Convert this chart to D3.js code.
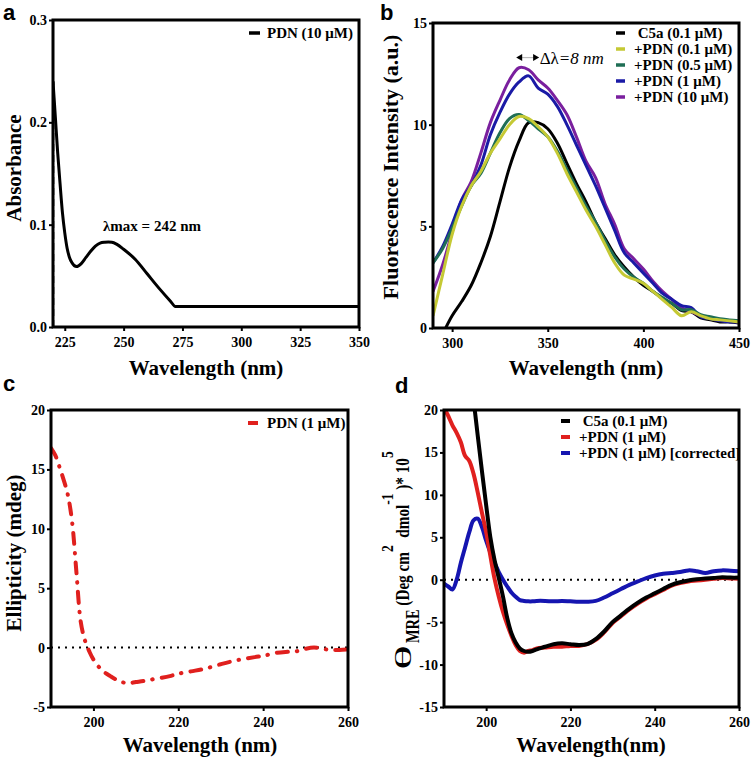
<!DOCTYPE html>
<html><head><meta charset="utf-8">
<script src="https://cdn.jsdelivr.net/npm/d3@7"></script>
<style>
body{margin:0;background:#fff;}
svg{display:block;}
text{white-space:pre;}
</style></head><body>
<svg id="chart" width="752" height="761"></svg>
<script>
// ---------- Panel a: UV absorbance ----------
const absWavelength = [220,221,222,223,224,225,226,227,228,230,232,234,236,238,240,242,243.5,245,247,250,255,260,265,270,272,275,300,325,350];
const absorbance    = [0.24,0.205,0.17,0.14,0.112,0.092,0.077,0.068,0.063,0.059,0.062,0.068,0.074,0.079,0.082,0.0828,0.083,0.0828,0.081,0.076,0.066,0.052,0.038,0.025,0.020,0.020,0.020,0.020,0.020];
const absTicksX = [225,250,275,300,325,350];
const absTicksY = [0,0.1,0.2,0.3];
const absLegend = "PDN (10 μM)";
const lambdaMaxLabel = "λmax = 242 nm";

// ---------- Panel b: fluorescence ----------
const flWavelength = [290,295,300,305,310,315,320,325,330,335,340,345,350,355,360,365,370,375,380,385,390,395,400,405,410,415,420,425,430,435,440,445,450];
const flC5a   = [-1.2,-0.3,0.6,1.3,2.1,3.2,4.5,6.2,7.9,9.2,10.1,10.1,9.8,9.1,8.1,7.1,6.2,5.2,4.4,3.6,3.0,2.5,2.1,1.8,1.45,1.2,0.85,0.8,0.5,0.4,0.3,0.3,0.25];
const flPdn01 = [0.6,2.6,4.6,6.0,7.0,7.7,8.6,9.3,10.0,10.4,10.3,9.9,9.4,8.6,7.6,6.7,5.8,5.0,4.1,3.2,2.6,2.4,2.2,1.8,1.4,1.0,0.6,0.8,0.6,0.45,0.4,0.35,0.3];
const flPdn05 = [3.2,3.9,4.9,6.0,7.0,7.6,8.6,9.6,10.3,10.5,10.2,9.8,9.4,8.7,7.8,6.9,6.0,5.2,4.3,3.5,2.9,2.5,2.2,1.8,1.5,1.2,0.9,0.9,0.65,0.55,0.45,0.4,0.35];
const flPdn1  = [3.2,4.0,5.1,6.3,7.0,8.0,9.5,10.6,11.5,12.1,12.4,11.8,11.5,10.9,10.0,9.0,8.0,7.0,5.9,4.8,3.7,3.2,2.7,2.2,1.7,1.4,1.1,1.0,0.55,0.45,0.35,0.3,0.3];
const flPdn10 = [1.8,3.1,4.7,6.3,7.2,8.6,10.1,11.2,12.2,12.8,12.7,12.2,11.8,11.2,10.5,9.4,8.2,7.4,6.1,5.1,3.9,3.4,2.9,2.3,1.8,1.4,1.0,0.8,0.6,0.5,0.4,0.35,0.3];
const flNames  = [" C5a (0.1 μM)","+PDN (0.1 μM)","+PDN (0.5 μM)","+PDN (1 μM)","+PDN (10 μM)"];
const flColors = ["#000000","#c5c934","#1f6e55","#1a1aa6","#7a1f9e"];
const flTicksX = [300,350,400,450];
const flTicksY = [0,5,10,15];
const shiftArrow = [333.5,345.5];   // wavelength ends of the Δλ arrow
const shiftLevel = 13.3;
const shiftLabel = ["Δλ","=8 nm"];

// ---------- Panel c: CD ellipticity ----------
const cdWavelength = [190,191,192,193,194,195,196,197,198,199,200,202,204,206,208,210,212,215,218,220,223,226,230,234,238,240,243,246,248,250,252,254,256,258,260];
const cdEllipticity = [16.8,16.2,15.2,14.1,12.8,10.5,6.3,2.2,0.6,-0.3,-1.0,-1.9,-2.4,-2.8,-3.0,-2.9,-2.8,-2.6,-2.4,-2.2,-2.0,-1.8,-1.4,-1.05,-0.8,-0.7,-0.45,-0.35,-0.3,-0.1,0.0,-0.1,-0.2,-0.2,-0.15];
const cdLegend = "PDN (1 μM)";
const cdTicksX = [200,220,240,260];
const cdTicksY = [-5,0,5,10,15,20];

// ---------- Panel d: MRE ----------
const mreWavelength = [190,191,192,193,194,195,196,197,198,199,200,201,202,203,204,205,206,207,208,209,210,211,212,214,216,218,220,222,224,226,228,230,232,234,236,238,240,242,244,246,248,250,252,254,256,258,260];
const mreC5a = [null,null,null,null,null,null,null,21.3,17.0,12.8,8.8,5.0,2.3,0.2,-2.0,-4.5,-6.3,-7.4,-8.1,-8.4,-8.5,-8.4,-8.2,-7.9,-7.6,-7.5,-7.6,-7.7,-7.6,-7.0,-6.1,-5.0,-4.2,-3.4,-2.7,-2.1,-1.6,-1.1,-0.6,-0.3,-0.1,0.05,0.15,0.2,0.3,0.25,0.25];
const mrePdn = [20.3,19.3,18.2,17.3,16.2,14.6,14.0,12.5,10.3,7.9,5.6,2.8,0.1,-2.0,-3.8,-5.3,-6.6,-7.7,-8.4,-8.6,-8.4,-8.3,-8.1,-8.0,-7.9,-7.9,-7.8,-7.8,-7.6,-7.1,-6.2,-5.1,-4.3,-3.5,-2.8,-2.2,-1.7,-1.2,-0.7,-0.4,-0.2,-0.1,0.0,0.1,0.2,0.15,0.1];
const mrePdnCorr = [-0.45,-0.8,-1.15,0.0,2.0,3.8,5.6,7.0,7.2,6.2,4.6,3.2,2.0,0.9,0.0,-0.8,-1.5,-2.0,-2.4,-2.5,-2.55,-2.55,-2.5,-2.5,-2.55,-2.5,-2.55,-2.6,-2.6,-2.5,-2.1,-1.6,-1.1,-0.6,-0.2,0.2,0.5,0.7,0.8,0.9,1.1,1.0,0.8,1.0,1.1,1.05,1.0];
const mreNames  = [" C5a (0.1 μM)","+PDN (1 μM)","+PDN (1 μM) [corrected]"];
const mreColors = ["#000000","#e0201e","#1515b0"];
const mreTicksY = [-15,-10,-5,0,5,10,15,20];

// ---------- drawing ----------
const SERIF = "'Liberation Serif','Times New Roman',serif";
const SANS = "'Liberation Sans',Arial,sans-serif";
const svg = d3.select("#chart");
const defs = svg.append("defs");

function makePanel(box, xDomain, yDomain, xTicks, yTicks, yFmt, id) {
  const x = d3.scaleLinear().domain(xDomain).range([box.l, box.r]);
  const y = d3.scaleLinear().domain(yDomain).range([box.b, box.t]);
  defs.append("clipPath").attr("id", id).append("rect")
    .attr("x", box.l).attr("y", box.t).attr("width", box.r - box.l).attr("height", box.b - box.t);
  const g = svg.append("g");
  const plot = g.append("g").attr("clip-path", `url(#${id})`);
  const xa = g.append("g").attr("transform", `translate(0,${box.b})`)
    .call(d3.axisBottom(x).tickValues(xTicks).tickFormat(d => String(d)).tickSize(4).tickPadding(6).tickSizeOuter(0));
  const ya = g.append("g").attr("transform", `translate(${box.l},0)`)
    .call(d3.axisLeft(y).tickValues(yTicks).tickFormat(yFmt).tickSize(4).tickPadding(2).tickSizeOuter(0));
  [xa, ya].forEach(a => {
    a.attr("font-family", SERIF).attr("font-size", 14).attr("font-weight", "bold");
    a.select(".domain").remove();
    a.selectAll("line").attr("stroke", "#000").attr("stroke-width", 2);
    a.selectAll("text").attr("fill", "#000");
  });
  g.append("rect").attr("x", box.l).attr("y", box.t)
    .attr("width", box.r - box.l).attr("height", box.b - box.t)
    .attr("fill", "none").attr("stroke", "#000").attr("stroke-width", 3);
  return {x, y, g, plot, box};
}

function title(g, txt, x, y, rot, size) {
  return g.append("text").attr("transform", `translate(${x},${y})` + (rot ? " rotate(-90)" : ""))
    .attr("text-anchor", "middle").attr("font-family", SERIF).attr("font-weight", "bold")
    .attr("font-size", size || 21).attr("fill", "#000").text(txt);
}
function letter(txt, x, y) {
  svg.append("text").attr("x", x).attr("y", y).attr("font-family", SANS).attr("font-weight", "bold")
    .attr("font-size", 22).attr("fill", "#000").text(txt);
}
function legend(g, names, colors, x0, y0, dy, opts) {
  names.forEach((n, i) => {
    const yy = y0 + i * dy;
    g.append("line").attr("x1", x0).attr("x2", x0 + (opts.mw || 9)).attr("y1", yy).attr("y2", yy)
      .attr("stroke", colors[i]).attr("stroke-width", opts.sw || 3.5);
    g.append("text").attr("x", x0 + (opts.tx || 18)).attr("y", yy).attr("dy", "0.35em")
      .attr("font-family", SERIF).attr("font-weight", "bold").attr("font-size", opts.fs || 15)
      .attr("fill", "#000").text(n);
  });
}

// Panel a
{
  const p = makePanel({l:53, r:359, t:20, b:327}, [220,350], [0,0.3], absTicksX, absTicksY, d => d.toFixed(1), "clipA");
  const pts = absWavelength.map((w, i) => [w, absorbance[i]]);
  const iMax = d3.maxIndex(absorbance);
  p.plot.append("line").attr("x1", p.x(absWavelength[iMax])).attr("x2", p.x(absWavelength[iMax]))
    .attr("y1", p.y(0)).attr("y2", p.y(absorbance[iMax]))
    .attr("stroke", "#8a8a8a").attr("stroke-width", 3).attr("stroke-dasharray", "7,4");
  p.plot.append("path").datum(pts).attr("fill", "none").attr("stroke", "#000").attr("stroke-width", 3)
    .attr("d", d3.line().x(d => p.x(d[0])).y(d => p.y(d[1])).curve(d3.curveMonotoneX));
  p.g.append("text").attr("x", 103).attr("y", 231).attr("font-family", SERIF).attr("font-weight", "bold")
    .attr("font-size", 15).attr("fill", "#000").text(lambdaMaxLabel);
  legend(p.g, [absLegend], ["#000"], 249, 33, 16, {mw: 11, tx: 18});
  title(p.g, "Wavelength (nm)", 206, 375, false);
  title(p.g, "Absorbance", 21, 168, true);
  letter("a", 3, 20);
}

// Panel b
{
  const p = makePanel({l:433, r:739, t:23, b:328}, [290,450], [0,15], flTicksX, flTicksY, d => String(d), "clipB");
  const series = [flC5a, flPdn01, flPdn05, flPdn1, flPdn10];
  const line = d3.line().x((d, i) => p.x(flWavelength[i])).y(d => p.y(d)).curve(d3.curveCatmullRom);
  const order = [0, 4, 3, 2, 1];
  order.forEach(k => {
    p.plot.append("path").datum(series[k]).attr("fill", "none").attr("stroke", flColors[k])
      .attr("stroke-width", 3).attr("d", line);
  });
  const ay = p.y(shiftLevel);
  const xl = p.x(shiftArrow[0]), xr = p.x(shiftArrow[1]);
  p.g.append("line").attr("x1", xl + 4).attr("x2", xr - 4).attr("y1", ay).attr("y2", ay)
    .attr("stroke", "#bbb").attr("stroke-width", 1.2);
  p.g.append("path").attr("d", `M${xl},${ay} l6,-3.5 l0,7 z`).attr("fill", "#000");
  p.g.append("path").attr("d", `M${xr},${ay} l-6,-3.5 l0,7 z`).attr("fill", "#000");
  const t = p.g.append("text").attr("x", xr + 0.5).attr("y", ay + 6).attr("font-family", SERIF)
    .attr("font-size", 17).attr("fill", "#000");
  t.append("tspan").text(shiftLabel[0]);
  t.append("tspan").attr("font-style", "italic").text(shiftLabel[1]);
  legend(p.g, flNames, flColors, 616, 33, 16, {mw: 9, tx: 18});
  title(p.g, "Wavelength (nm)", 586, 375, false);
  title(p.g, "Fluorescence Intensity (a.u.)", 398, 167, true, 22);
  letter("b", 380, 20);
}

// Panel c
{
  const p = makePanel({l:51, r:348, t:410, b:707}, [190,260], [-5,20], cdTicksX, cdTicksY, d => String(d), "clipC");
  p.plot.append("line").attr("x1", p.x(190)).attr("x2", p.x(260)).attr("y1", p.y(0)).attr("y2", p.y(0))
    .attr("stroke", "#000").attr("stroke-width", 2).attr("stroke-dasharray", "2,5");
  const pts = cdWavelength.map((w, i) => [w, cdEllipticity[i]]);
  p.plot.append("path").datum(pts).attr("fill", "none").attr("stroke", "#e0201e").attr("stroke-width", 4)
    .attr("stroke-linecap", "round").attr("stroke-dasharray", "11,9,0.5,9")
    .attr("d", d3.line().x(d => p.x(d[0])).y(d => p.y(d[1])).curve(d3.curveCatmullRom));
  legend(p.g, [cdLegend], ["#e0201e"], 248, 423, 16, {mw: 10, tx: 19, sw: 4});
  title(p.g, "Wavelength (nm)", 200, 752, false);
  title(p.g, "Ellipticity (mdeg)", 21, 553, true);
  letter("c", 3, 391);
}

// Panel d
{
  const p = makePanel({l:444, r:739, t:410, b:707}, [190,260], [-15,20], cdTicksX, mreTicksY, d => String(d), "clipD");
  p.plot.append("line").attr("x1", p.x(190)).attr("x2", p.x(260)).attr("y1", p.y(0)).attr("y2", p.y(0))
    .attr("stroke", "#000").attr("stroke-width", 2).attr("stroke-dasharray", "2,5");
  const series = [mrePdnCorr, mrePdn, mreC5a];
  const cols = [mreColors[2], mreColors[1], mreColors[0]];
  const line = d3.line().defined(d => d !== null).x((d, i) => p.x(mreWavelength[i])).y(d => p.y(d)).curve(d3.curveCatmullRom);
  series.forEach((s, k) => {
    p.plot.append("path").datum(s).attr("fill", "none").attr("stroke", cols[k]).attr("stroke-width", 4).attr("d", line);
  });
  legend(p.g, mreNames, mreColors, 561, 421, 16, {mw: 9, tx: 18, sw: 4});
  title(p.g, "Wavelength(nm)", 591, 752, false);
  // y-axis label: θ_MRE (Deg cm^2 dmol^-1)* 10^5
  p.g.append("text").attr("transform", "translate(411,670) rotate(-90)")
    .attr("font-family", SERIF).attr("font-size", 24).attr("fill", "#000")
    .attr("textLength", 25).attr("lengthAdjust", "spacingAndGlyphs").text("θ");
  const yl = p.g.append("text").attr("transform", "translate(409,643) rotate(-90) scale(0.8,1)")
    .attr("font-family", SERIF).attr("font-weight", "bold").attr("font-size", 19).attr("fill", "#000");
  yl.append("tspan").attr("font-size", 18).attr("dy", 10).text("MRE");
  yl.append("tspan").attr("dy", -10).text(" (Deg cm");
  yl.append("tspan").attr("font-size", 17).attr("dy", -16).text("2");
  yl.append("tspan").attr("dy", 16).text("  dmol");
  yl.append("tspan").attr("font-size", 17).attr("dy", -16).text("-1");
  yl.append("tspan").attr("dy", 16).text(" )* 10");
  yl.append("tspan").attr("font-size", 17).attr("dy", -16).text("5");
  letter("d", 395, 393);
}
</script>
</body></html>
